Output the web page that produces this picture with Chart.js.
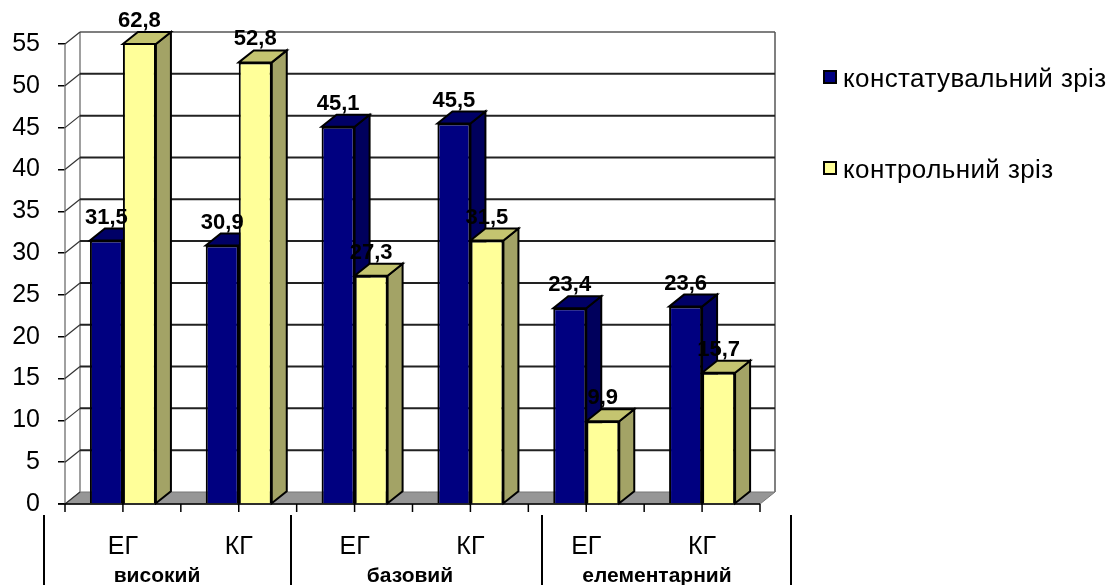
<!DOCTYPE html>
<html>
<head>
<meta charset="utf-8">
<title>Зрізи</title>
<script src="https://cdn.jsdelivr.net/npm/chart.js@4"></script>
<style>
  html, body { margin: 0; padding: 0; background: #fff; }
  #wrap { position: relative; width: 1109px; height: 585px; overflow: hidden; }
  #legend div { position: absolute; left: 823px; height: 26px; line-height: 26px;
    font: 26px "Liberation Sans", Arial, sans-serif; letter-spacing: 0.4px; color: #000; white-space: nowrap; }
  #legend span { position: absolute; left: 0; top: 7px; width: 10px; height: 10px; border: 2px solid #000; }
  #legend b { font-weight: normal; position: absolute; left: 20px; top: 0; }
</style>
</head>
<body>
<div id="wrap">
  <canvas id="chart" width="1109" height="585"></canvas>
  <div id="legend"></div>
</div>
<script>
const categories = ['ЕГ', 'КГ', 'ЕГ', 'КГ', 'ЕГ', 'КГ'];
const groupLabels = ['високий', 'базовий', 'елементарний'];
const seriesNames = ['констатувальний зріз', 'контрольний зріз'];
const firstCut = [31.5, 30.9, 45.1, 45.5, 23.4, 23.6];
const controlCut = [62.8, 52.8, 27.3, 31.5, 9.9, 15.7];

// Faces of the fake 3D box
const DEPTH_X = 15;
const DEPTH_Y = 12;
const faces = [
  { front: '#000080', side: '#00005c', top: '#000066' },
  { front: '#ffff99', side: '#a3a366', top: '#c4c470' }
];

function poly(ctx, pts, fill, stroke, lw) {
  ctx.beginPath();
  pts.forEach((p, i) => i ? ctx.lineTo(p[0], p[1]) : ctx.moveTo(p[0], p[1]));
  ctx.closePath();
  if (fill) { ctx.fillStyle = fill; ctx.fill(); }
  if (stroke) { ctx.strokeStyle = stroke; ctx.lineWidth = lw; ctx.stroke(); }
}

function line(ctx, x1, y1, x2, y2, color, lw) {
  ctx.beginPath();
  ctx.moveTo(x1, y1);
  ctx.lineTo(x2, y2);
  ctx.strokeStyle = color;
  ctx.lineWidth = lw;
  ctx.stroke();
}

const box3d = {
  id: 'box3d',
  beforeDatasetsDraw(chart) {
    const ctx = chart.ctx;
    const area = chart.chartArea;
    const yScale = chart.scales.y;
    ctx.save();

    // floor
    poly(ctx, [[area.left, area.bottom], [area.left + DEPTH_X, area.bottom - DEPTH_Y],
      [area.right + DEPTH_X, area.bottom - DEPTH_Y], [area.right, area.bottom]], '#969696', '#777', 1);

    // walls
    line(ctx, area.left, area.top, area.left, area.bottom, '#808080', 1.5);
    line(ctx, area.left + DEPTH_X, area.top - DEPTH_Y, area.left + DEPTH_X, area.bottom - DEPTH_Y, '#808080', 1.5);
    line(ctx, area.right + DEPTH_X, area.top - DEPTH_Y, area.right + DEPTH_X, area.bottom - DEPTH_Y, '#808080', 2);

    // grid lines on the back and left wall
    yScale.ticks.forEach(t => {
      const y = yScale.getPixelForValue(t.value);
      if (t.value > 0) {
        const top = t.value === yScale.max;
        line(ctx, area.left + DEPTH_X, y - DEPTH_Y, area.right + DEPTH_X, y - DEPTH_Y, top ? '#555' : '#222', top ? 1.5 : 2);
      }
      line(ctx, area.left, y, area.left + DEPTH_X, y - DEPTH_Y, '#333', 1.2);
    });

    // side and top of each bar, fronts come from Chart.js afterwards
    chart.data.datasets.forEach((ds, d) => {
      chart.getDatasetMeta(d).data.forEach(bar => {
        const l = bar.x - bar.width / 2;
        const r = bar.x + bar.width / 2;
        const t = Math.max(bar.y, area.top);
        poly(ctx, [[r, t], [r + DEPTH_X, t - DEPTH_Y], [r + DEPTH_X, bar.base - DEPTH_Y], [r, bar.base]], faces[d].side, '#000', 2);
        poly(ctx, [[l, t], [l + DEPTH_X, t - DEPTH_Y], [r + DEPTH_X, t - DEPTH_Y], [r, t]], faces[d].top, '#000', 2);
      });
    });

    // x axis line and ticks, every half category
    line(ctx, area.left - 7, area.bottom, area.right, area.bottom, '#000', 1.5);
    for (let i = 0; i <= categories.length * 2; i++) {
      const x = area.left + (area.right - area.left) * i / (categories.length * 2);
      line(ctx, x, area.bottom, x, area.bottom + 8, '#000', 1.5);
    }
    ctx.restore();
  },
  afterDatasetsDraw(chart) {
    const ctx = chart.ctx;
    const area = chart.chartArea;
    ctx.save();
    chart.data.datasets.forEach((ds, d) => {
      chart.getDatasetMeta(d).data.forEach((bar, i) => {
        const t = Math.max(bar.y, area.top);
        // clipped bars lose their top edge
        if (bar.y < area.top) {
          line(ctx, bar.x - bar.width / 2, t, bar.x + bar.width / 2, t, '#000', 2);
        }
        ctx.font = 'bold 22px "Liberation Sans", Arial, sans-serif';
        ctx.fillStyle = '#000';
        ctx.textAlign = 'center';
        ctx.textBaseline = 'middle';
        ctx.fillText(ds.data[i].toFixed(1).replace('.', ','), bar.x, t - 23);
      });
    });

    // group captions under the axis
    const seps = [44, 291, 542, 791];
    seps.forEach(x => line(ctx, x, 515, x, 585, '#000', 2));
    const groupX = [157, 410, 657];
    ctx.font = 'bold 21px "Liberation Sans", Arial, sans-serif';
    ctx.fillStyle = '#000';
    ctx.textAlign = 'center';
    ctx.textBaseline = 'alphabetic';
    groupLabels.forEach((g, i) => ctx.fillText(g, groupX[i], 582));
    ctx.restore();
  }
};

const chart = new Chart(document.getElementById('chart'), {
  type: 'bar',
  data: {
    labels: categories,
    datasets: [
      { label: seriesNames[0], data: firstCut, backgroundColor: faces[0].front, borderColor: '#000', borderWidth: 2 },
      { label: seriesNames[1], data: controlCut, backgroundColor: faces[1].front, borderColor: '#000', borderWidth: 2 }
    ]
  },
  options: {
    responsive: false,
    animation: false,
    devicePixelRatio: 1,
    layout: { padding: { top: 44, right: 349, left: 0, bottom: 0 } },
    datasets: { bar: { barPercentage: 1, categoryPercentage: 0.57 } },
    plugins: { legend: { display: false }, tooltip: { enabled: false } },
    scales: {
      x: {
        afterFit(s) { s.height = 81; },
        grid: { display: false },
        border: { display: false },
        ticks: { color: '#000', padding: 20, maxRotation: 0, autoSkip: false,
          font: { family: '"Liberation Sans", Arial, sans-serif', size: 25 } }
      },
      y: {
        min: 0,
        max: 55,
        afterFit(s) { s.width = 65; },
        grid: { drawOnChartArea: false, color: '#000', tickLength: 7, lineWidth: 1.5 },
        border: { display: false },
        ticks: { stepSize: 5, color: '#000', padding: 18,
          font: { family: '"Liberation Sans", Arial, sans-serif', size: 25 } }
      }
    }
  },
  plugins: [box3d]
});

// legend next to the plot
const legendTops = [63, 154];
chart.data.datasets.forEach((ds, i) => {
  const row = document.createElement('div');
  row.style.top = legendTops[i] + 'px';
  row.innerHTML = '<span style="background:' + ds.backgroundColor + '"></span><b>' + ds.label + '</b>';
  document.getElementById('legend').appendChild(row);
});
</script>
</body>
</html>
